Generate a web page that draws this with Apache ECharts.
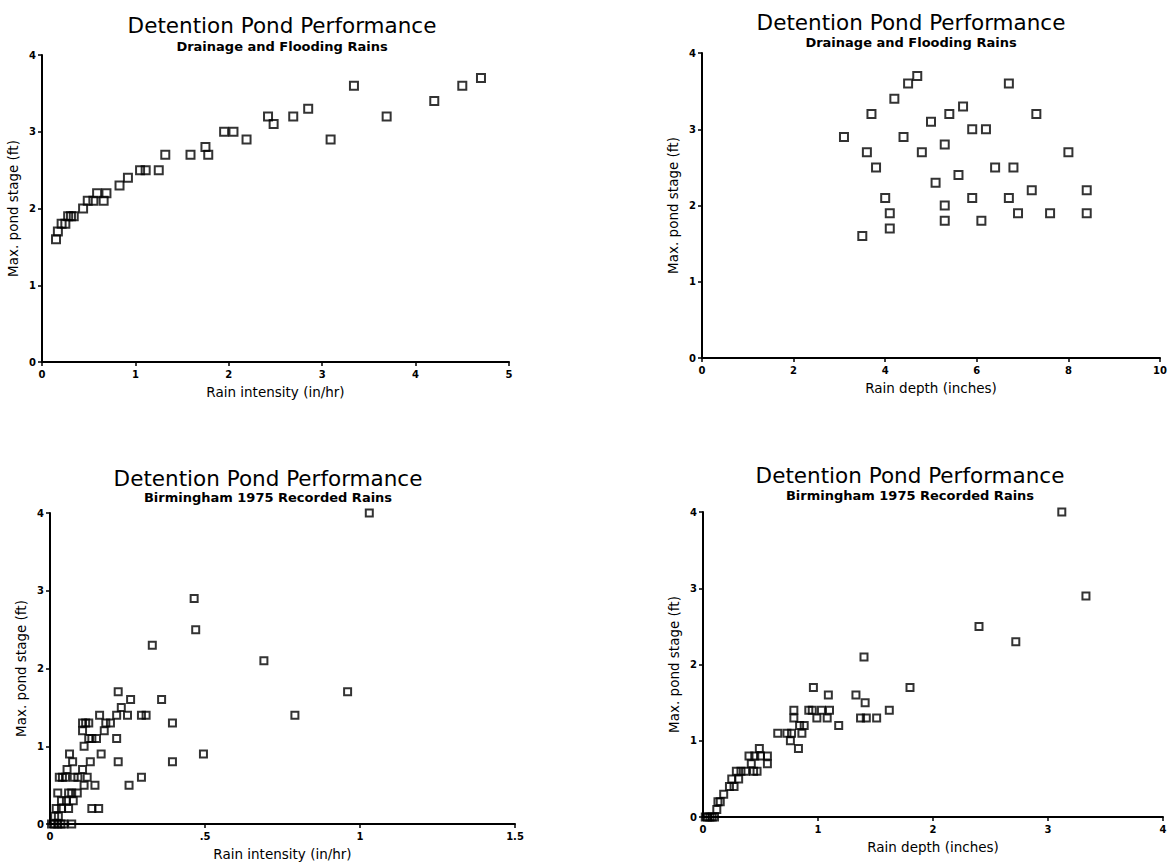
<!DOCTYPE html>
<html>
<head>
<meta charset="utf-8">
<script src="https://cdn.jsdelivr.net/npm/echarts@6/dist/echarts.min.js"></script>
<style>
html,body{margin:0;padding:0;background:#fff;}
#chart{width:1173px;height:865px;}
</style>
</head>
<body>
<div id="chart"></div>
<script>
// ---- Data ----
const mainTitle = 'Detention Pond Performance';
const subTitleTop = 'Drainage and Flooding Rains';
const subTitleBottom = 'Birmingham 1975 Recorded Rains';
const yAxisName = 'Max. pond stage (ft)';
const xNameIntensity = 'Rain intensity (in/hr)';
const xNameDepth = 'Rain depth (inches)';

// Panel 1: Drainage and Flooding Rains, stage vs intensity
const p1Intensity = [0.15,0.17,0.21,0.25,0.28,0.31,0.34,0.44,0.49,0.55,0.59,0.66,0.69,0.83,0.92,1.05,1.11,1.25,1.32,1.59,1.75,1.78,1.95,2.05,2.19,2.42,2.48,2.69,2.85,3.09,3.34,3.69,4.20,4.50,4.70];
const p1Stage     = [1.6,1.7,1.8,1.8,1.9,1.9,1.9,2.0,2.1,2.1,2.2,2.1,2.2,2.3,2.4,2.5,2.5,2.5,2.7,2.7,2.8,2.7,3.0,3.0,2.9,3.2,3.1,3.2,3.3,2.9,3.6,3.2,3.4,3.6,3.7];

// Panel 2: Drainage and Flooding Rains, stage vs depth
const p2Depth = [3.1,3.5,3.6,3.7,3.8,4.0,4.1,4.1,4.2,4.4,4.5,4.7,4.8,5.0,5.1,5.3,5.3,5.3,5.4,5.6,5.7,5.9,5.9,6.1,6.2,6.4,6.7,6.7,6.8,6.9,7.2,7.3,7.6,8.0,8.4,8.4];
const p2Stage = [2.9,1.6,2.7,3.2,2.5,2.1,1.9,1.7,3.4,2.9,3.6,3.7,2.7,3.1,2.3,2.8,2.0,1.8,3.2,2.4,3.3,3.0,2.1,1.8,3.0,2.5,3.6,2.1,2.5,1.9,2.2,3.2,1.9,2.7,2.2,1.9];

// Panel 3: Birmingham 1975, stage vs intensity
const p3Intensity = [1.03,0.465,0.47,0.33,0.69,0.96,0.79,0.495,0.395,0.395,0.36,0.295,0.31,0.295,0.255,0.26,0.25,0.23,0.22,0.215,0.215,0.22,0.16,0.105,0.115,0.125,0.18,0.195,0.175,0.105,0.125,0.135,0.15,0.11,0.165,0.063,0.073,0.13,0.055,0.105,0.12,0.03,0.04,0.05,0.078,0.09,0.145,0.11,0.025,0.06,0.07,0.088,0.037,0.053,0.075,0.02,0.037,0.06,0.135,0.157,0.027,0.015,0.005,0.015,0.025,0.035,0.045,0.07];
const p3Stage     = [4.0,2.9,2.5,2.3,2.1,1.7,1.4,0.9,1.3,0.8,1.6,1.4,1.4,0.6,0.5,1.6,1.4,1.5,1.7,1.4,1.1,0.8,1.4,1.3,1.3,1.3,1.3,1.3,1.2,1.2,1.1,1.1,1.1,1.0,0.9,0.9,0.8,0.8,0.7,0.7,0.6,0.6,0.6,0.6,0.6,0.6,0.5,0.5,0.4,0.4,0.4,0.4,0.3,0.3,0.3,0.2,0.2,0.2,0.2,0.2,0.1,0.1,0,0,0,0,0,0];

// Panel 4: Birmingham 1975, stage vs depth
const p4Depth = [3.12,3.33,2.40,2.72,1.40,1.80,0.96,1.09,1.33,1.41,0.79,0.92,0.95,1.03,1.10,1.62,0.79,0.99,1.08,1.37,1.42,1.51,1.18,0.84,0.88,0.65,0.73,0.77,0.86,0.76,0.83,0.49,0.40,0.45,0.50,0.56,0.42,0.56,0.44,0.47,0.29,0.33,0.37,0.31,0.25,0.23,0.27,0.18,0.13,0.15,0.12,0.02,0.04,0.06,0.08,0.10];
const p4Stage = [4.0,2.9,2.5,2.3,2.1,1.7,1.7,1.6,1.6,1.5,1.4,1.4,1.4,1.4,1.4,1.4,1.3,1.3,1.3,1.3,1.3,1.3,1.2,1.2,1.2,1.1,1.1,1.1,1.1,1.0,0.9,0.9,0.8,0.8,0.8,0.8,0.7,0.7,0.6,0.6,0.6,0.6,0.6,0.5,0.5,0.4,0.4,0.3,0.2,0.2,0.1,0,0,0,0,0];

// ---- Chart ----
const FONT = 'DejaVu Sans';
function zip(a, b) { return a.map((v, i) => [v, b[i]]); }

const grids = [
  {left: 42,  top: 55,  width: 467, height: 307},
  {left: 702, top: 53,  width: 458, height: 305},
  {left: 50,  top: 513, width: 465, height: 311},
  {left: 703, top: 512, width: 460, height: 305}
];
const xSpecs = [
  {max: 5, interval: 1, name: xNameIntensity},
  {max: 10, interval: 2, name: xNameDepth},
  {max: 1.5, interval: 0.5, name: xNameIntensity},
  {max: 4, interval: 1, name: xNameDepth}
];
const titlePos = [
  {x: 277, y: 9,   sy: 35},
  {x: 906, y: 6,   sy: 31},
  {x: 263, y: 462, sy: 486},
  {x: 905, y: 459, sy: 484}
];
const subs = [subTitleTop, subTitleTop, subTitleBottom, subTitleBottom];
const seriesData = [zip(p1Intensity, p1Stage), zip(p2Depth, p2Stage), zip(p3Intensity, p3Stage), zip(p4Depth, p4Stage)];

const axisLine = {show: true, onZero: false, lineStyle: {color: '#000', width: 2}};
const axisTick = {show: true, length: 4, lineStyle: {color: '#000', width: 1.5}};
const tickLabel = {color: '#000', fontFamily: FONT, fontWeight: 'bold', fontSize: 10};

const option = {
  animation: false,
  backgroundColor: '#fff',
  title: [].concat(
    titlePos.map(p => ({text: mainTitle, left: p.x, top: p.y, textAlign: 'center',
      textStyle: {fontFamily: FONT, fontSize: 21.5, fontWeight: 'normal', color: '#000'}})),
    titlePos.map((p, i) => ({text: subs[i], left: p.x, top: p.sy, textAlign: 'center',
      textStyle: {fontFamily: FONT, fontSize: 13, fontWeight: 'bold', color: '#000'}}))
  ),
  grid: grids,
  xAxis: xSpecs.map((s, i) => ({
    type: 'value', gridIndex: i, min: 0, max: s.max, interval: s.interval,
    name: s.name, nameLocation: 'middle', nameGap: 23,
    nameTextStyle: {fontFamily: FONT, fontSize: 13.5, color: '#000'},
    axisLine: axisLine, axisTick: axisTick, splitLine: {show: false},
    axisLabel: Object.assign({margin: 7, formatter: v => (v > 0 && v < 1) ? String(v).replace(/^0/, '') : String(v)}, tickLabel)
  })),
  yAxis: grids.map((g, i) => ({
    type: 'value', gridIndex: i, min: 0, max: 4, interval: 1,
    name: yAxisName, nameLocation: 'middle', nameGap: 22,
    nameTextStyle: {fontFamily: FONT, fontSize: 13.5, color: '#000'},
    axisLine: axisLine, axisTick: axisTick, splitLine: {show: false},
    axisLabel: Object.assign({margin: 6}, tickLabel)
  })),
  series: seriesData.map((d, i) => ({
    type: 'scatter', xAxisIndex: i, yAxisIndex: i, data: d,
    symbol: 'rect', symbolSize: i < 2 ? 8 : 7,
    itemStyle: {color: 'rgba(0,0,0,0)', borderColor: '#000', borderWidth: 2}
  }))
};

const chart = echarts.init(document.getElementById('chart'), null, {renderer: 'svg'});
chart.setOption(option);
</script>
</body>
</html>
